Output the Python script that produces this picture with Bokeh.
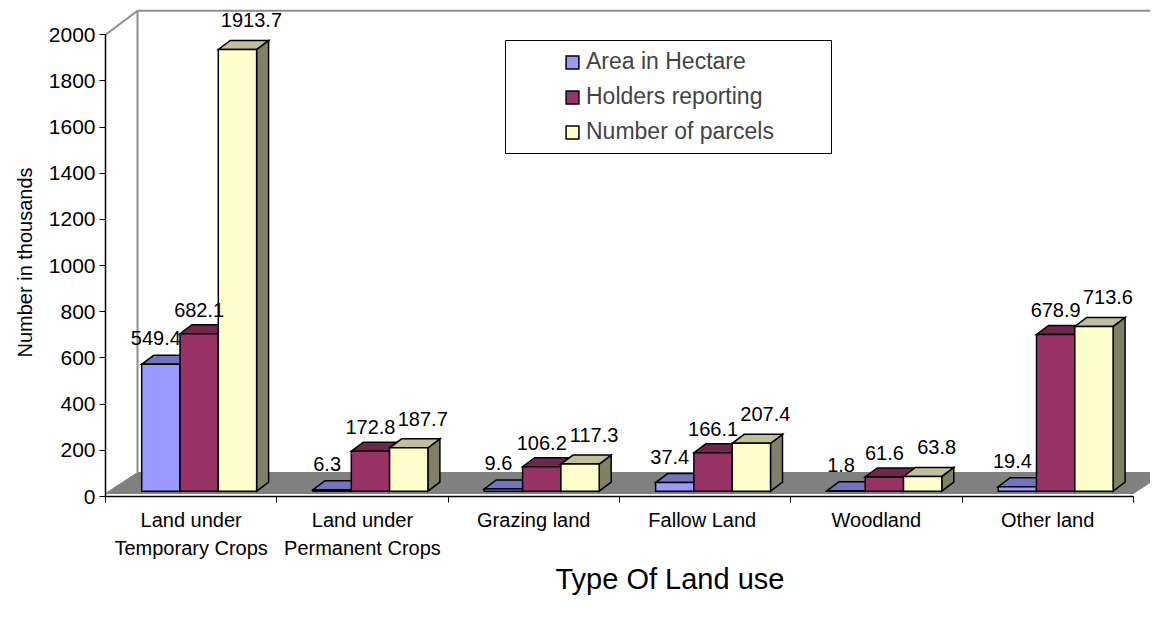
from bokeh.plotting import figure
from bokeh.models import Range1d, FixedTicker, Legend, LegendItem, ColumnDataSource, Title
from bokeh.core.properties import value
from bokeh.embed import file_html
from bokeh.resources import INLINE

# ---------------- data ----------------
categories = ["Land under\nTemporary Crops", "Land under\nPermanent Crops", "Grazing land",
              "Fallow  Land", "Woodland", "Other land"]
series_names = ["Area in Hectare", "Holders reporting", "Number of parcels"]
area_in_hectare = [549.4, 6.3, 9.6, 37.4, 1.8, 19.4]
holders_reporting = [682.1, 172.8, 106.2, 166.1, 61.6, 678.9]
number_of_parcels = [1913.7, 187.7, 117.3, 207.4, 63.8, 713.6]
y_ticks = [0, 200, 400, 600, 800, 1000, 1200, 1400, 1600, 1800, 2000]
y_title = "Number in thousands"
x_title = "Type Of Land use"

series_values = [area_in_hectare, holders_reporting, number_of_parcels]

# ---------------- styles ----------------
FONT = "Liberation Sans"
front_colors = ["#9999FF", "#993366", "#FFFFCC"]
top_colors = ["#7373BF", "#73264D", "#BFBF99"]
side_colors = ["#4D4D80", "#4D1A33", "#808066"]
label_dx_px = [-5, 0, 14]      # label x shift per series (px)
label_gap_px = [17, 15, 20]    # label gap above bar back-top per series (px)

W, H = 1150, 610
K = 0.23085      # px per value unit
CW = 171.3       # px per category
FRAME_LEFT = 105
FRAME_BOTTOM_Y = 496           # canvas y of the value-0 line
FRAME_BOTTOM = H - FRAME_BOTTOM_Y


def dx(px):
    return px / CW


def dv(px):
    return px / K


def px_x(cx):
    return (cx - FRAME_LEFT) / CW


def px_y(cy):
    return (FRAME_BOTTOM_Y - cy) / K


n = len(categories)
p = figure(width=W, height=H, output_backend="svg", toolbar_location=None,
           x_range=Range1d(0, (W - FRAME_LEFT) / CW),
           y_range=Range1d(0, FRAME_BOTTOM_Y / K),
           min_border_left=FRAME_LEFT, min_border_right=0,
           min_border_top=0, min_border_bottom=FRAME_BOTTOM)
p.outline_line_color = None
p.xgrid.visible = False
p.ygrid.visible = False
p.background_fill_color = "white"

# ---------------- walls and floor ----------------
WD_X, WD_V = dx(32), dv(24)
p.patch([0, n, n + WD_X, WD_X], [dv(3), dv(3), WD_V, WD_V],
        fill_color="#808080", line_color="#808080", line_width=1)
top_v = y_ticks[-1]
p.multi_line([[0, WD_X, WD_X], [WD_X, n + 1]],
             [[top_v, top_v + WD_V, WD_V], [top_v + WD_V, top_v + WD_V]],
             line_color="#8C8C8C", line_width=2)

# ---------------- 3D bars ----------------
BW = dx(38.3)
SHIFT = dx(8)
BASE = dv(5.3)
DDX, DDV = dx(12), dv(9)

front_renderers = []
label_sources = []
for s, vals in enumerate(series_values):
    xl = [i + 0.5 + SHIFT - 1.5 * BW + s * BW for i in range(n)]
    xr = [x + BW for x in xl]
    tops = [BASE + v for v in vals]
    side_xs = [[r, r, r + DDX, r + DDX] for r in xr]
    side_ys = [[BASE, t, t + DDV, BASE + DDV] for t in tops]
    top_xs = [[l, r, r + DDX, l + DDX] for l, r in zip(xl, xr)]
    top_ys = [[t, t, t + DDV, t + DDV] for t in tops]
    p.patches(side_xs, side_ys, fill_color=side_colors[s], line_color="black",
              line_width=1.5, line_join="miter")
    p.patches(top_xs, top_ys, fill_color=top_colors[s], line_color="black",
              line_width=1.5, line_join="miter")
    src = ColumnDataSource(dict(left=xl, right=xr, top=tops, bottom=[BASE] * n))
    r = p.quad(left="left", right="right", top="top", bottom="bottom", source=src,
               fill_color=front_colors[s], line_color="black", line_width=1.5,
               line_join="miter")
    front_renderers.append(r)
    label_sources.append(ColumnDataSource(dict(
        x=[(l + r_) / 2 + dx(label_dx_px[s]) for l, r_ in zip(xl, xr)],
        y=[t + DDV + dv(label_gap_px[s]) for t in tops],
        text=[f"{v:.1f}" for v in vals])))

# data labels drawn on top of all bars
for lab in label_sources:
    p.text(x="x", y="y", text="text", source=lab, text_font=value(FONT),
           text_font_size="20px", text_align="center", text_baseline="middle",
           text_color="black")

# ---------------- legend ----------------
p.quad(left=[px_x(505)], right=[px_x(831)], top=[px_y(40)], bottom=[px_y(153)],
       fill_color="white", line_color="black", line_width=1)

legend = Legend(items=[LegendItem(label=nm, renderers=[r])
                       for nm, r in zip(series_names, front_renderers)],
                location=(459, 351), padding=0, margin=0, spacing=8,
                label_height=23, glyph_width=16, glyph_height=16, label_standoff=6,
                label_text_font=FONT, label_text_font_size="23px",
                border_line_color=None, background_fill_alpha=0)
p.add_layout(legend)

# ---------------- axes ----------------
ya = p.yaxis[0]
ya.ticker = FixedTicker(ticks=y_ticks)
ya.bounds = (0, y_ticks[-1])
ya.major_tick_in = 0
ya.major_tick_out = 6
ya.minor_tick_line_color = None
ya.major_label_standoff = 4
ya.major_label_text_font = FONT
ya.major_label_text_font_size = "21px"
ya.major_label_text_color = "black"
ya.axis_line_color = "black"
ya.axis_line_width = 1.5
ya.major_tick_line_color = "black"

# y-axis title (placed as a side title so it can sit where the reference has it)
p.add_layout(Title(text=y_title, align="left", offset=139, vertical_align="bottom",
                   standoff=20, text_font=FONT, text_font_size="20px",
                   text_font_style="normal", text_color="black"), "left")

xa = p.xaxis[0]
centers = [i + 0.5 for i in range(n)]
xa.ticker = FixedTicker(ticks=centers, minor_ticks=list(range(n + 1)))
xa.bounds = (0, n)
xa.major_label_overrides = {c: lab for c, lab in zip(centers, categories)}
xa.major_tick_line_color = None
xa.major_tick_in = 0
xa.major_tick_out = 6
xa.minor_tick_in = 0
xa.minor_tick_out = 6
xa.minor_tick_line_color = "black"
xa.axis_line_color = "black"
xa.axis_line_width = 1.5
xa.major_label_standoff = 6
xa.major_label_text_font = FONT
xa.major_label_text_font_size = "20px"
xa.major_label_text_line_height = 1.3
xa.major_label_text_color = "black"

p.add_layout(Title(text=x_title, align="left", offset=450, vertical_align="top",
                   standoff=0, text_font=FONT, text_font_size="29px",
                   text_font_style="normal", text_color="black"), "below")

open("out.html", "w").write(file_html(p, INLINE))
